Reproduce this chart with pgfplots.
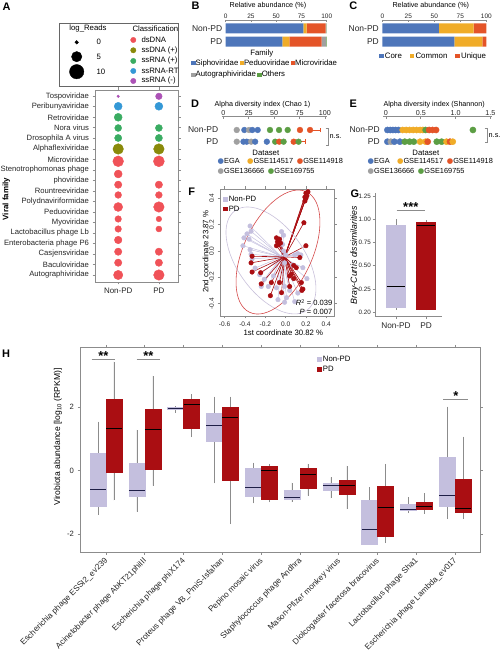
\documentclass[border=0pt]{standalone}
\usepackage{fontspec}
\setmainfont{Liberation Sans}
\newfontfamily\djv{DejaVu Sans}
\usepackage{pgfplots}
\pgfplotsset{compat=1.18}
\usepgfplotslibrary{statistics}

\definecolor{cds}{RGB}{240,82,88}
\definecolor{cssd}{RGB}{138,138,10}
\definecolor{cssp}{RGB}{58,172,98}
\definecolor{crt}{RGB}{52,152,214}
\definecolor{crm}{RGB}{172,82,182}
\definecolor{xblue}{RGB}{78,118,186}
\definecolor{xyel}{RGB}{240,172,40}
\definecolor{xora}{RGB}{228,84,40}
\definecolor{xgray}{RGB}{160,160,160}
\definecolor{xgreen}{RGB}{92,158,68}
\definecolor{lav}{RGB}{196,191,222}
\definecolor{dred}{RGB}{170,14,18}
\definecolor{frm}{RGB}{140,140,140}
\definecolor{navyd}{RGB}{30,30,70}
\definecolor{ellN}{RGB}{200,192,218}
\definecolor{ellP}{RGB}{212,72,72}

\newcommand\fs[1]{\fontsize{#1}{#1}\selectfont}
\newcommand\sq[1]{{\color{#1}\rule{4.4bp}{4.4bp}}}
\newcommand\cd[1]{{\djv\color{#1}●}}

\pgfplotsset{
  base/.style={scale only axis, anchor=south west, clip=false,
    /pgf/number format/assume math mode=true,
    font=\fs{7}, tick label style={font=\fs{7}, text=black!85},
    axis line style={frm,-}, tick style={frm,semithick}, tick align=outside,
    major tick length=2.5bp},
  topaxis/.style={axis x line*=top, axis y line*=left, y axis line style={draw=none},
    ytick style={draw=none}, tick align=inside, major tick length=2bp},
  cls/.style={scatter, only marks, mark=*, scatter src=explicit symbolic,
    scatter/classes={ds={mark=*,cds}, ssd={mark=*,cssd}, ssp={mark=*,cssp},
      rt={mark=*,crt}, rm={mark=*,crm},
      ega={mark=*,xblue}, g17={mark=*,xyel}, g18={mark=*,xora},
      g36={mark=*,xgray}, g69={mark=*,xgreen}}},
  hb/.style={boxplot/draw direction=y, boxplot/box extend=0.41, boxplot/whisker extend=0,
    boxplot/every whisker/.style={frm}},
  nb/.style={hb, fill=lav, draw=lav, boxplot/every median/.style={draw=navyd, line width=0.9pt}},
  pb/.style={hb, fill=dred, draw=dred, boxplot/every median/.style={draw=black, line width=0.9pt}},
}

\begin{document}
\begin{tikzpicture}[x=1bp,y=1bp]
\useasboundingbox (0,0) rectangle (503,660);

% ---------------- Panel A legend
\begin{axis}[base, at={(59bp,574bp)}, width=119bp, height=63bp,
  xmin=59, xmax=178, ymin=574, ymax=637, ticks=none, axis line style={black!60}]
\addplot[only marks, mark=*, black, mark size=1.8] coordinates {(76.7,617.7)};
\addplot[only marks, mark=*, black, mark size=5.2] coordinates {(76.7,603.3)};
\addplot[only marks, mark=*, black, mark size=7.2] coordinates {(76.7,588.3)};
\addplot[cls, mark size=2.7] table[x=x,y=y,meta=c]{
x y c
133.3 620 ds
133.3 609.7 ssd
133.3 599 ssp
133.3 589 rt
133.3 579 rm
};
\node[font=\fs{7.8}] at (axis cs:88,631) {log\_Reads};
\node[font=\fs{7.8}, anchor=west] at (axis cs:129,631) {Classification};
\node[font=\fs{7.8}, anchor=west] at (axis cs:93,617.7) {0};
\node[font=\fs{7.8}, anchor=west] at (axis cs:93,603.3) {5};
\node[font=\fs{7.8}, anchor=west] at (axis cs:93,588.3) {10};
\node[font=\fs{7.8}, anchor=west] at (axis cs:138,620) {dsDNA};
\node[font=\fs{7.8}, anchor=west] at (axis cs:138,609.7) {ssDNA (+)};
\node[font=\fs{7.8}, anchor=west] at (axis cs:138,599) {ssRNA (+)};
\node[font=\fs{7.8}, anchor=west] at (axis cs:138,589) {ssRNA-RT};
\node[font=\fs{7.8}, anchor=west] at (axis cs:138,579) {ssRNA (-)};
\end{axis}

% ---------------- Panel A bubble plot
\begin{axis}[base, at={(95bp,378bp)}, width=83bp, height=192bp,
  xmin=0.43, xmax=2.47, ymin=378, ymax=570,
  xtick={1,2}, xticklabels={Non-PD,PD},
  xticklabel style={font=\fs{8}},
  ytick={385.0,395.5,406.1,416.6,427.1,437.6,448.1,458.6,469.1,479.6,490.1,500.6,511.1,521.7,532.2,542.7,553.2,563.7},
  yticklabels={Autographiviridae,Baculoviridae,Casjensviridae,Enterobacteria phage P6,Lactobacillus phage Lb,Myoviridae,Peduoviridae,Polydnaviriformidae,Rountreeviridae,phoviridae,Stenotrophomonas phage,Microviridae,Alphaflexiviridae,Drosophila A virus,Nora virus,Retroviridae,Peribunyaviridae,Tospoviridae},
  yticklabel style={font=\fs{7.7}}]
\addplot[cls, visualization depends on={\thisrow{r}\as\rad},
  scatter/@pre marker code/.append style={/tikz/mark size=\rad}]
  table[x=x,y=y,meta=c]{
x y r c
1 563.7 1.3 rm
2 563.7 3.3 rm
1 553.7 4.0 rt
2 553.7 4.0 rt
1 542.7 4.0 ssp
1 532 3.5 ssp
2 532 3.5 ssp
1 522 3.6 ssp
2 522 3.6 ssp
1 511 5.3 ssd
2 511 5.3 ssd
1 498.7 5.4 ds
2 498.7 5.5 ds
1 486 4.0 ds
1 475.3 3.7 ds
2 475.3 3.7 ds
1 465 3.4 ds
2 465 3.4 ds
1 453 4.5 ds
2 453 5.3 ds
1 441 3.3 ds
2 441 2.8 ds
1 431 3.3 ds
2 431 3.0 ds
1 420 3.8 ds
1 408.3 3.7 ds
2 408.3 3.7 ds
1 397.3 3.7 ds
2 397.3 3.7 ds
1 385 4.7 ds
2 385 5.3 ds
};
\end{axis}
\node[font=\fs{8}\bfseries, rotate=90] at (6.3,461) {Viral family};

% ---------------- Panel B
\begin{axis}[base, topaxis, at={(225.7bp,613bp)}, width=101bp, height=27bp,
  xmin=0, xmax=100, ymin=613, ymax=640, xbar stacked, bar width=10,
  ytick={618.3,631.7}, yticklabels={PD,Non-PD},
  yticklabel style={font=\fs{8.5}},
  xtick={0,25,50,75,100}, xticklabel style={font=\fs{6.5}, inner sep=1.5bp}]
\addplot[fill=xblue, draw=none] coordinates {(77,631.7) (56,618.3)};
\addplot[fill=xyel, draw=none] coordinates {(3,631.7) (7,618.3)};
\addplot[fill=xora, draw=none] coordinates {(19,631.7) (32,618.3)};
\addplot[fill=xgray, draw=none] coordinates {(0.6,631.7) (4.5,618.3)};
\addplot[fill=xgreen, draw=none] coordinates {(0.4,631.7) (0.5,618.3)};
\end{axis}
\node[font=\fs{7.2}] at (268,654) {Relative abundance (\%)};
\node[font=\fs{7.8}] at (261.7,606.7) {Family};
\node[font=\fs{7.8}, anchor=west, inner sep=0] at (191,596.7) {\sq{xblue}Siphoviridae\,\sq{xyel}Peduoviridae\,\sq{xora}Microviridae};
\node[font=\fs{7.8}, anchor=west, inner sep=0] at (191,585) {\sq{xgray}Autographiviridae\,\sq{xgreen}Others};

% ---------------- Panel C
\begin{axis}[base, topaxis, at={(382.3bp,613bp)}, width=104bp, height=27bp,
  xmin=0, xmax=100, ymin=613, ymax=640, xbar stacked, bar width=10,
  ytick={618.3,631.7}, yticklabels={PD,Non-PD},
  yticklabel style={font=\fs{8.5}},
  xtick={0,25,50,75,100}, xticklabel style={font=\fs{6.5}, inner sep=1.5bp}]
\addplot[fill=xblue, draw=none] coordinates {(54.5,631.7) (69.4,618.3)};
\addplot[fill=xyel, draw=none] coordinates {(33.2,631.7) (26.9,618.3)};
\addplot[fill=xora, draw=none] coordinates {(12.3,631.7) (3.7,618.3)};
\end{axis}
\node[font=\fs{7.2}] at (430.8,654) {Relative abundance (\%)};
\node[font=\fs{7.9}, anchor=west, inner sep=0] at (379,604) {\sq{xblue}\,Core\quad\sq{xyel}\,Common\quad\sq{xora}\,Unique};

% ---------------- Panel D
\begin{axis}[base, topaxis, at={(221.7bp,513bp)}, width=105bp, height=30.3bp,
  xmin=-1.6, xmax=101.7, ymin=513, ymax=543.3,
  ytick={518.3,530}, yticklabels={PD,Non-PD},
  yticklabel style={font=\fs{8.5}},
  xtick={0,25,50,75,100}, xticklabel style={font=\fs{7.2}, inner sep=1bp}]
\addplot[xora, semithick] coordinates {(85.3,530) (95.1,530)};
\addplot[xora, semithick] coordinates {(95.1,527.6) (95.1,532.4)};
\addplot[xora, semithick] coordinates {(74,518.3) (80.6,518.3)};
\addplot[xora, semithick] coordinates {(80.6,515.9) (80.6,520.7)};
\addplot[cls, mark size=2.9] table[x=x,y=y,meta=c]{
x y c
13.2 530 g36
20.7 530 ega
25.3 530 g36
28.5 530 ega
33.8 530 ega
45.9 530 g69
54.8 530 g69
63.3 530 g69
75.4 530 g18
85.3 530 g18
13.2 518.3 g36
19.8 518.3 ega
23.0 518.3 ega
27.4 518.3 g36
31.3 518.3 ega
42.8 518.3 ega
51.0 518.3 g69
55.0 518.3 g18
59.3 518.3 g69
69.2 518.3 g18
74.0 518.3 g69
};
\end{axis}
\node[font=\fs{7.2}] at (262.5,555.5) {Alpha diversity index (Chao 1)};
\draw[frm] (325.5,532) -- (328.5,532) -- (328.5,515) -- (325.5,515);
\node[font=\fs{7.3}, anchor=west, inner sep=0.5] at (329,523.5) {n.s.};
\node[font=\fs{7.8}] at (265.8,507.3) {Dataset};
\node[font=\fs{7.4}, anchor=west, inner sep=0] at (217.5,499) {\cd{xblue}EGA\quad\cd{xyel}GSE114517\enspace\cd{xora}GSE114918};
\node[font=\fs{7.4}, anchor=west, inner sep=0] at (217.5,488.3) {\cd{xgray}GSE136666\enspace\cd{xgreen}GSE169755};

% ---------------- Panel E
\begin{axis}[base, topaxis, at={(383.2bp,513bp)}, width=108.5bp, height=30.3bp,
  xmin=-0.04, xmax=1.52, ymin=513, ymax=543.3,
  ytick={518.3,530}, yticklabels={PD,Non-PD},
  yticklabel style={font=\fs{8.5}},
  xtick={0,0.5,1,1.5}, xticklabels={0,0.5,1.0,1.5}, xticklabel style={font=\fs{7.2}, inner sep=1bp}]
\addplot[cls, mark size=3.1] table[x=x,y=y,meta=c]{
x y c
0.02 530 ega
0.06 530 ega
0.10 530 ega
0.14 530 ega
0.18 530 ega
0.24 530 g17
0.29 530 g17
0.34 530 g17
0.39 530 g17
0.44 530 g17
0.49 530 g17
0.53 530 g17
0.57 530 g69
0.62 530 g18
0.67 530 g18
0.72 530 g18
1.25 530 g69
0.02 518.3 ega
0.07 518.3 g36
0.12 518.3 ega
0.20 518.3 ega
0.27 518.3 g69
0.34 518.3 g69
0.40 518.3 g69
0.49 518.3 g17
0.57 518.3 g17
0.60 518.3 g18
0.73 518.3 g69
0.80 518.3 g69
0.87 518.3 g17
0.92 518.3 g18
0.96 518.3 g17
};
\end{axis}
\node[font=\fs{7.2}] at (434.2,555.5) {Alpha diversity index (Shannon)};
\draw[frm] (484.5,532) -- (487.5,532) -- (487.5,518) -- (484.5,518);
\node[font=\fs{7.3}, anchor=west, inner sep=0.5] at (488,524) {n.s.};
\node[font=\fs{7.8}] at (425.8,507.3) {Dataset};
\node[font=\fs{7.4}, anchor=west, inner sep=0] at (367.5,499) {\cd{xblue}EGA\quad\cd{xyel}GSE114517\enspace\cd{xora}GSE114918};
\node[font=\fs{7.4}, anchor=west, inner sep=0] at (367.5,488.3) {\cd{xgray}GSE136666\enspace\cd{xgreen}GSE169755};

% ---------------- Panel F
\begin{axis}[base, at={(220bp,344bp)}, width=114bp, height=127bp, clip=true,
  xmin=-0.6457, xmax=0.4764, ymin=-0.4943, ymax=0.4715,
  xtick={-0.6,-0.4,-0.2,0,0.2,0.4}, ytick={-0.4,-0.2,0,0.2,0.4},
  xticklabel style={font=\fs{6.6}, /pgf/number format/fixed, /pgf/number format/precision=1, /pgf/number format/fixed zerofill},
  yticklabel style={font=\fs{6.6}, rotate=90, anchor=south, /pgf/number format/fixed, /pgf/number format/precision=1, /pgf/number format/fixed zerofill}]
\addplot[lav, line width=0.5pt, quiver={u={-0.04-\thisrow{x}}, v={-0.045-\thisrow{y}}}] table[x=x,y=y]{
x y
-0.35 0.19
-0.34 0.15
-0.38 0.13
-0.41 0.10
-0.36 0.09
-0.42 0.04
-0.35 0.01
-0.34 -0.025
-0.03 0.05
-0.04 0.147
-0.02 0.12
-0.02 0.00
0.00 -0.03
0.09 -0.03
0.12 -0.02
0.15 -0.03
-0.01 -0.09
-0.30 -0.13
-0.255 -0.18
-0.21 -0.215
-0.12 -0.19
-0.24 -0.27
-0.17 -0.27
-0.09 -0.28
-0.01 -0.27
0.04 -0.30
0.12 -0.32
0.01 -0.355
-0.075 -0.37
-0.01 -0.39
0.09 -0.385
0.17 -0.127
0.07 -0.11
0.21 -0.21
-0.33 -0.06
};
\addplot[only marks, mark=*, lav, mark size=2.3] table[x=x,y=y]{
x y
-0.35 0.19
-0.34 0.15
-0.38 0.13
-0.41 0.10
-0.36 0.09
-0.42 0.04
-0.35 0.01
-0.34 -0.025
-0.03 0.05
-0.04 0.147
-0.02 0.12
-0.02 0.00
0.00 -0.03
0.09 -0.03
0.12 -0.02
0.15 -0.03
-0.01 -0.09
-0.30 -0.13
-0.255 -0.18
-0.21 -0.215
-0.12 -0.19
-0.24 -0.27
-0.17 -0.27
-0.09 -0.28
-0.01 -0.27
0.04 -0.30
0.12 -0.32
0.01 -0.355
-0.075 -0.37
-0.01 -0.39
0.09 -0.385
0.17 -0.127
0.07 -0.11
0.21 -0.21
-0.33 -0.06
};
\addplot[dred, line width=0.6pt, quiver={u={-0.01-\thisrow{x}}, v={-0.045-\thisrow{y}}}] table[x=x,y=y]{
x y
0.19 0.38
0.20 0.40
0.21 0.42
0.20 0.44
0.22 0.45
0.19 0.41
0.18 0.215
-0.09 0.10
-0.08 0.07
-0.06 0.09
-0.07 0.05
-0.05 0.06
-0.09 0.04
0.20 0.04
0.14 -0.05
-0.34 -0.09
-0.33 -0.16
-0.33 -0.04
-0.245 -0.165
0.105 -0.127
0.056 -0.177
0.04 -0.19
0.08 -0.21
-0.06 -0.24
-0.14 -0.24
-0.24 -0.25
0.17 -0.29
-0.04 -0.317
-0.15 -0.34
0.155 -0.24
0.04 -0.27
0.16 -0.30
0.08 -0.11
};
\addplot[only marks, mark=*, dred, mark size=2.3] table[x=x,y=y]{
x y
0.19 0.38
0.20 0.40
0.21 0.42
0.20 0.44
0.22 0.45
0.19 0.41
0.18 0.215
-0.09 0.10
-0.08 0.07
-0.06 0.09
-0.07 0.05
-0.05 0.06
-0.09 0.04
0.20 0.04
0.14 -0.05
-0.34 -0.09
-0.33 -0.16
-0.33 -0.04
-0.245 -0.165
0.105 -0.127
0.056 -0.177
0.04 -0.19
0.08 -0.21
-0.06 -0.24
-0.14 -0.24
-0.24 -0.25
0.17 -0.29
-0.04 -0.317
-0.15 -0.34
0.155 -0.24
0.04 -0.27
0.16 -0.30
0.08 -0.11
};
\draw[ellN, line width=0.6pt, rotate around={-54.2:(axis cs:-0.144,-0.072)}] (axis cs:-0.144,-0.072) ellipse [x radius=61.4bp, y radius=33.4bp];
\draw[ellP, line width=0.6pt, rotate around={64.8:(axis cs:-0.075,-0.008)}] (axis cs:-0.075,-0.008) ellipse [x radius=66.6bp, y radius=34.2bp];
\end{axis}
\node[font=\fs{7.7}, anchor=west, inner sep=0] at (223,461) {\sq{lav}\,Non-PD};
\node[font=\fs{7.7}, anchor=west, inner sep=0] at (223,451.3) {\sq{dred}\,PD};
\node[font=\fs{7.6}, anchor=east, inner sep=0] at (332.5,357.3) {\textit{R}\textsuperscript{2} = 0.039};
\node[font=\fs{7.6}, anchor=east, inner sep=0] at (332.5,348.3) {\textit{P} = 0.007};
\node[font=\fs{7.8}] at (283.3,327.7) {1st coordinate 30.82 \%};
\node[font=\fs{7.8}, rotate=90] at (205.5,408.3) {2nd coordinate 23.87 \%};

% ---------------- Panel G
\begin{axis}[base, at={(375bp,343.3bp)}, width=66.7bp, height=123.4bp,
  xmin=0.3, xmax=2.523, ymin=-0.048, ymax=1.28,
  axis x line*=bottom, axis y line*=left,
  xtick={1,2}, xticklabels={Non-PD,PD}, xticklabel style={font=\fs{8.3}},
  ytick={0,0.25,0.5,0.75,1,1.25}, yticklabels={0.20,0.25,0.50,0.75,1.00,1.25},
  yticklabel style={font=\fs{6.3}, inner sep=1.5bp}]
\addplot[boxplot prepared={draw position=1, lower whisker=0.025, lower quartile=0.05, median=0.282, upper quartile=0.939, upper whisker=1.0},
  fill=lav, draw=lav, boxplot/draw direction=y, boxplot/box extend=0.63, boxplot/whisker extend=0,
  boxplot/every whisker/.style={frm}, boxplot/every median/.style={draw=black, line width=0.9pt}] coordinates {};
\addplot[boxplot prepared={draw position=2, lower whisker=0.02, lower quartile=0.035, median=0.93, upper quartile=0.974, upper whisker=0.99},
  fill=dred, draw=dred, boxplot/draw direction=y, boxplot/box extend=0.63, boxplot/whisker extend=0,
  boxplot/every whisker/.style={frm}, boxplot/every median/.style={draw=black, line width=0.9pt}] coordinates {};
\end{axis}
\draw[frm] (396.7,450) -- (425,450);
\node[font=\fs{13}\bfseries, anchor=base, inner sep=0] at (410.8,448.3) {***};
\node[font=\fs{8.8}\itshape, rotate=90] at (354.5,405) {Bray-Curtis dissimilarities};

% ---------------- Panel H
\begin{axis}[base, at={(80bp,107.7bp)}, width=400bp, height=205bp,
  xmin=0.33, xmax=10.64, ymin=-2.57, ymax=3.88,
  xtick={1,2,3,4,5,6,7,8,9,10},
  xticklabels={Escherichia phage ESSI2\_ev239,Acinetobacter phage AbKT21phiIII,Escherichia phage phiX174,Proteus phage VB\_PmiS-Isfahan,Pepino mosaic virus,Staphylococcus phage Andhra,Mason-Pfizer monkey virus,Diolcogaster facetosa bracovirus,Lactobacillus phage Sha1,Escherichia phage Lambda\_ev017},
  xticklabel style={font=\fs{8.2}, xshift=3bp, yshift=-2.5bp, rotate=45, anchor=east},
  ytick={-2,0,2}, yticklabel style={font=\fs{7.7}}]
\addplot[nb, boxplot prepared={draw position=0.794, lower whisker=-1.39, lower quartile=-1.11, median=-0.585, upper quartile=0.55, upper whisker=1.54}] coordinates {};
\addplot[pb, boxplot prepared={draw position=1.206, lower whisker=-0.94, lower quartile=-0.05, median=1.33, upper quartile=2.245, upper whisker=3.43}] coordinates {};
\addplot[nb, boxplot prepared={draw position=1.794, lower whisker=-1.29, lower quartile=-0.82, median=-0.63, upper quartile=0.23, upper whisker=1.28}] coordinates {};
\addplot[pb, boxplot prepared={draw position=2.206, lower whisker=-0.47, lower quartile=0.04, median=1.28, upper quartile=1.93, upper whisker=2.98}] coordinates {};
\addplot[nb, boxplot prepared={draw position=2.794, lower whisker=1.82, lower quartile=1.93, median=1.95, upper quartile=1.98, upper whisker=2.03}] coordinates {};
\addplot[pb, boxplot prepared={draw position=3.206, lower whisker=1.05, lower quartile=1.33, median=2.09, upper quartile=2.245, upper whisker=2.41}] coordinates {};
\addplot[nb, boxplot prepared={draw position=3.794, lower whisker=-0.40, lower quartile=0.91, median=1.41, upper quartile=1.82, upper whisker=2.33}] coordinates {};
\addplot[pb, boxplot prepared={draw position=4.206, lower whisker=-1.68, lower quartile=-0.29, median=1.68, upper quartile=1.98, upper whisker=2.33}] coordinates {};
\addplot[nb, boxplot prepared={draw position=4.794, lower whisker=-1.03, lower quartile=-0.80, median=-0.52, upper quartile=0.075, upper whisker=0.25}] coordinates {};
\addplot[pb, boxplot prepared={draw position=5.206, lower whisker=-0.99, lower quartile=-0.89, median=0.0, upper quartile=0.13, upper whisker=0.21}] coordinates {};
\addplot[nb, boxplot prepared={draw position=5.794, lower whisker=-0.99, lower quartile=-0.90, median=-0.84, upper quartile=-0.63, upper whisker=-0.38}] coordinates {};
\addplot[pb, boxplot prepared={draw position=6.206, lower whisker=-0.79, lower quartile=-0.55, median=-0.11, upper quartile=0.075, upper whisker=0.21}] coordinates {};
\addplot[nb, boxplot prepared={draw position=6.794, lower whisker=-0.87, lower quartile=-0.61, median=-0.48, upper quartile=-0.40, upper whisker=-0.21}] coordinates {};
\addplot[pb, boxplot prepared={draw position=7.206, lower whisker=-1.21, lower quartile=-0.73, median=-0.48, upper quartile=-0.29, upper whisker=0.15}] coordinates {};
\addplot[nb, boxplot prepared={draw position=7.794, lower whisker=-2.32, lower quartile=-2.30, median=-1.84, upper quartile=-0.92, upper whisker=-0.52}] coordinates {};
\addplot[pb, boxplot prepared={draw position=8.206, lower whisker=-2.28, lower quartile=-2.05, median=-1.15, upper quartile=-0.48, upper whisker=0.21}] coordinates {};
\addplot[nb, boxplot prepared={draw position=8.794, lower whisker=-1.34, lower quartile=-1.24, median=-1.21, upper quartile=-1.06, upper whisker=-0.84}] coordinates {};
\addplot[pb, boxplot prepared={draw position=9.206, lower whisker=-1.36, lower quartile=-1.21, median=-1.13, upper quartile=-0.99, upper whisker=-0.71}] coordinates {};
\addplot[nb, boxplot prepared={draw position=9.794, lower whisker=-1.53, lower quartile=-1.11, median=-0.79, upper quartile=0.42, upper whisker=2.01}] coordinates {};
\addplot[pb, boxplot prepared={draw position=10.206, lower whisker=-1.53, lower quartile=-1.32, median=-1.18, upper quartile=-0.27, upper whisker=1.07}] coordinates {};
\end{axis}
\node[font=\fs{8.6}, rotate=90] at (58,223) {Virobiota abundance [log\textsubscript{10} (RPKM)]};
\node[font=\fs{7.8}, anchor=west, inner sep=0] at (317,301) {\sq{lav}\,Non-PD};
\node[font=\fs{7.8}, anchor=west, inner sep=0] at (317,291) {\sq{dred}\,PD};
\draw[frm] (91.7,301) -- (115,301);
\node[font=\fs{13}\bfseries, anchor=base, inner sep=0] at (103.3,299.3) {**};
\draw[frm] (136.7,301) -- (160,301);
\node[font=\fs{13}\bfseries, anchor=base, inner sep=0] at (148.3,299.3) {**};
\draw[frm] (443.3,260.7) -- (468.3,260.7);
\node[font=\fs{13}\bfseries, anchor=base, inner sep=0] at (455.8,259) {*};

% ---------------- panel letters
\node[font=\fs{11}\bfseries] at (6.7,653.3) {A};
\node[font=\fs{11}\bfseries] at (195.7,654) {B};
\node[font=\fs{11}\bfseries] at (353.3,654) {C};
\node[font=\fs{11}\bfseries] at (195,556) {D};
\node[font=\fs{11}\bfseries] at (353.3,556) {E};
\node[font=\fs{11}\bfseries] at (191.7,468.3) {F};
\node[font=\fs{11}\bfseries] at (355,466.7) {G};
\node[font=\fs{11}\bfseries] at (6,306.7) {H};
\end{tikzpicture}
\end{document}
